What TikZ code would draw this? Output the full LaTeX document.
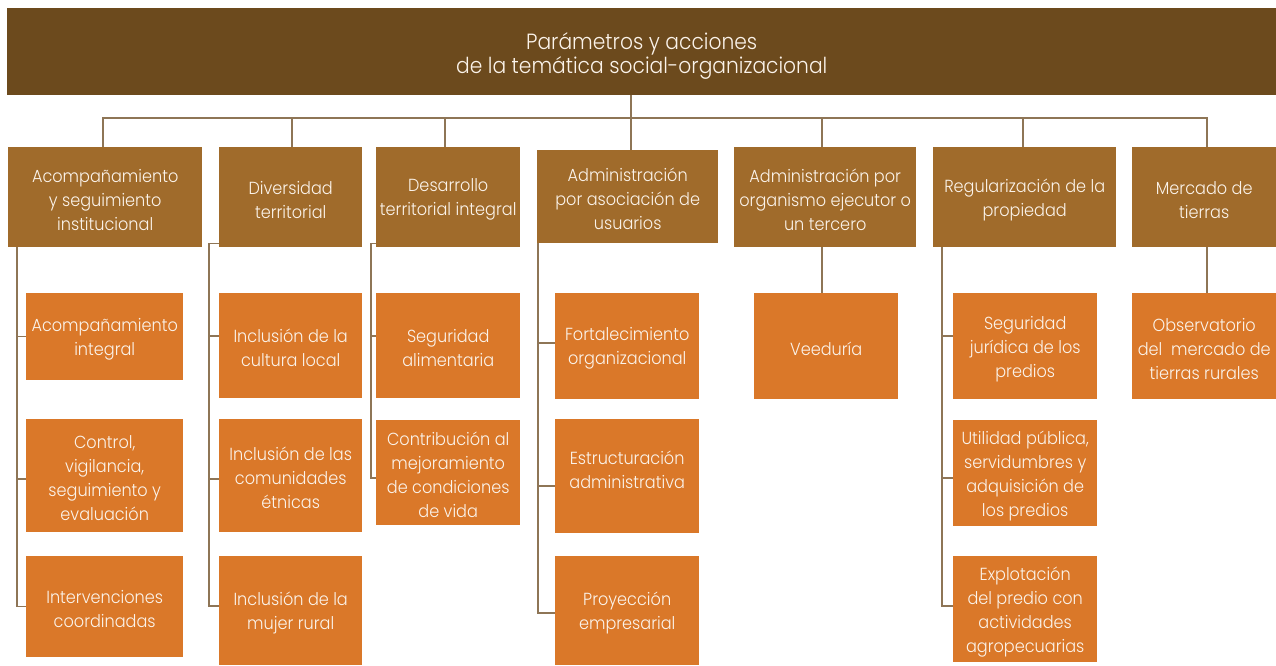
\documentclass[tikz,border=0pt]{standalone}
\usepackage{fontspec}
\setmainfont{Poppins Light}[FakeStretch=0.92]
\usetikzlibrary{calc}
\definecolor{titlec}{HTML}{6C4A1D}
\definecolor{lonec}{HTML}{A06B2B}
\definecolor{ltwoc}{HTML}{DA7829}
\definecolor{linec}{HTML}{8E7556}
\definecolor{txtc}{HTML}{FBF3EA}
\begin{document}
\begin{tikzpicture}[x=1pt,y=-1pt,
  conn/.style={draw=linec, line width=1.5pt},
  btxt/.style={text=txtc, align=center, inner sep=0pt, font=\fontsize{17.5}{24}\selectfont, yshift=-2.5pt},
  ttxt/.style={text=txtc, align=center, inner sep=0pt, font=\fontsize{22}{24}\selectfont, yshift=-4pt},
  tbox/.style={fill=titlec, inner sep=0pt, anchor=north west, label={[ttxt]center:{#1}}},
  lone/.style={fill=lonec, inner sep=0pt, anchor=north west, label={[btxt]center:{#1}}},
  lbox/.style={fill=ltwoc, inner sep=0pt, anchor=north west},
  ltwo/.style={lbox, label={[btxt]center:{#1}}}]
\fill[white] (0,0) rectangle (1276,665);
\useasboundingbox (0,0) rectangle (1276,665);

\node[tbox={Parámetros y acciones\\de la temática social-organizacional}, minimum width=1269pt, minimum height=87pt] (title) at (7,8) {};

\node[lone={Acompañamiento\\y seguimiento\\institucional}, minimum width=194pt, minimum height=100pt] (a1) at (8,147) {};
\node[lone={Diversidad\\territorial}, minimum width=143pt, minimum height=100pt] (a2) at (219,147) {};
\node[lone={Desarrollo\\territorial integral}, minimum width=144pt, minimum height=100pt] (a3) at (376,147) {};
\node[lone={Administración\\por asociación de\\usuarios}, minimum width=181pt, minimum height=93pt] (a4) at (537,150) {};
\node[lone={Administración por\\organismo ejecutor o\\un tercero}, minimum width=182pt, minimum height=100pt] (a5) at (734,147) {};
\node[lone={Regularización de la\\propiedad}, minimum width=183pt, minimum height=100pt] (a6) at (933,147) {};
\node[lone={Mercado de\\tierras}, minimum width=144pt, minimum height=100pt] (a7) at (1132,147) {};

\node[ltwo={Acompañamiento\\integral}, minimum width=157pt, minimum height=87pt] (b11) at (26,293) {};
\node[ltwo={Control,\\vigilancia,\\seguimiento y\\evaluación}, minimum width=157pt, minimum height=113pt] (b12) at (26,419) {};
\node[ltwo={Intervenciones\\coordinadas}, minimum width=157pt, minimum height=101pt] (b13) at (26,556) {};

\node[ltwo={Inclusión de la\\cultura local}, minimum width=143pt, minimum height=105pt] (b21) at (219,293) {};
\node[ltwo={Inclusión de las\\comunidades\\étnicas}, minimum width=143pt, minimum height=113pt] (b22) at (219,419) {};
\node[ltwo={Inclusión de la\\mujer rural}, minimum width=143pt, minimum height=109pt] (b23) at (219,556) {};

\node[ltwo={Seguridad\\alimentaria}, minimum width=144pt, minimum height=105pt] (b31) at (376,293) {};
\node[ltwo={Contribución al\\mejoramiento\\de condiciones\\de vida}, minimum width=144pt, minimum height=105pt] (b32) at (376,420) {};

\node[ltwo={Fortalecimiento\\organizacional}, minimum width=144pt, minimum height=106pt] (b41) at (555,293) {};
\node[lbox, label={[btxt, yshift=9pt]center:{Estructuración\\administrativa}}, minimum width=144pt, minimum height=114pt] (b42) at (555,419) {};
\node[ltwo={Proyección\\empresarial}, minimum width=144pt, minimum height=109pt] (b43) at (555,556) {};

\node[ltwo={Veeduría}, minimum width=144pt, minimum height=106pt] (b51) at (754,293) {};

\node[ltwo={Seguridad\\jurídica de los\\predios}, minimum width=144pt, minimum height=106pt] (b61) at (953,293) {};
\node[ltwo={Utilidad pública,\\servidumbres y\\adquisición de\\los predios}, minimum width=144pt, minimum height=106pt] (b62) at (953,420) {};
\node[ltwo={Explotación\\del predio con\\actividades\\agropecuarias}, minimum width=144pt, minimum height=106pt] (b63) at (953,556) {};

\node[ltwo={Observatorio\\del\ \ mercado de\\tierras rurales}, minimum width=144pt, minimum height=106pt] (b71) at (1132,293) {};

% top connectors
\coordinate (c1) at (103,118);
\coordinate (c2) at (292,118);
\coordinate (c3) at (445,118);
\coordinate (hub) at (631,118);
\coordinate (c5) at (822,118);
\coordinate (c6) at (1023,118);
\coordinate (c7) at (1207,118);
\draw[conn] (title.south -| hub) -- (a4.north -| hub);
\draw[conn] (c1 |- a1.north) -- (c1) -- (c7) -- (c7 |- a7.north);
\draw[conn] (c2) -- (c2 |- a2.north);
\draw[conn] (c3) -- (c3 |- a3.north);
\draw[conn] (c5) -- (c5 |- a5.north);
\draw[conn] (c6) -- (c6 |- a6.north);

% column 1
\coordinate (s1) at ($(a1.south west)+(9,0)$);
\draw[conn] (s1) |- (b13.west);
\draw[conn] (s1) |- (b11.west);
\draw[conn] (s1) |- ([yshift=-3.5pt]b12.west);
% column 2
\coordinate (s2) at ($(a2.south west)+(-10,-4)$);
\draw[conn] ($(a2.south west)+(0,-4)$) -- (s2) |- ([yshift=4.5pt]b23.west);
\draw[conn] (s2) |- ([yshift=9.5pt]b21.west);
\draw[conn] (s2) |- ([yshift=-3.5pt]b22.west);
% column 3
\coordinate (s3) at ($(a3.south west)+(-5,-4)$);
\draw[conn] ($(a3.south west)+(0,-4)$) -- (s3) |- ([yshift=-5.5pt]b32.west);
\draw[conn] (s3) |- ([yshift=9.5pt]b31.west);
% column 4
\coordinate (s4) at ($(a4.south west)+(1,0)$);
\draw[conn] (s4) |- ([yshift=-2.5pt]b43.west);
\draw[conn] (s4) |- ([yshift=3pt]b41.west);
\draw[conn] (s4) |- ([yshift=-10pt]b42.west);
% column 5
\draw[conn] (c5 |- a5.south) -- (c5 |- b51.north);
% column 6
\coordinate (s6) at ($(a6.south west)+(9,0)$);
\draw[conn] (s6) |- ([yshift=3pt]b63.west);
\draw[conn] (s6) |- ([yshift=10pt]b61.west);
\draw[conn] (s6) |- ([yshift=-5pt]b62.west);
% column 7
\draw[conn] (c7 |- a7.south) -- (c7 |- b71.north);
\end{tikzpicture}
\end{document}
